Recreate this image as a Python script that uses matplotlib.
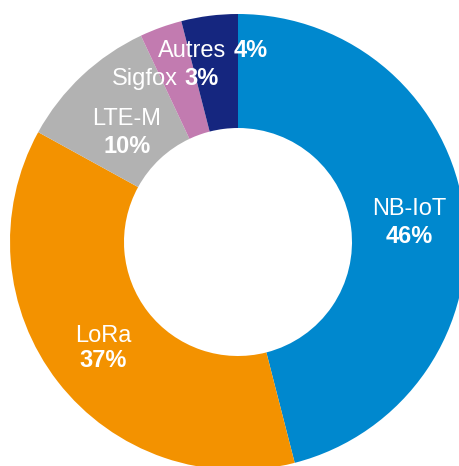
import matplotlib.pyplot as plt

plt.rcParams['font.family'] = ['Liberation Sans', 'DejaVu Sans']

labels = ['NB-IoT', 'LoRa', 'LTE-M', 'Sigfox', 'Autres']
shares = [46, 37, 10, 3, 4]
colors = ['#0088CE', '#F39200', '#B2B2B2', '#C27BB0', '#15267F']

W, H = 459, 466
cx, cy, R = 238, 242, 228

fig = plt.figure(figsize=(W / 100, H / 100), dpi=100)
ax = fig.add_axes([(cx - R) / W, (H - cy - R) / H, 2 * R / W, 2 * R / H])

ax.pie(shares, colors=colors, startangle=90, counterclock=False, radius=1,
       wedgeprops=dict(width=0.5, linewidth=0))
ax.set_xlim(-1, 1)
ax.set_ylim(-1, 1)
ax.set_aspect('auto')
ax.axis('off')

fs = 17
tk = dict(color='white', fontsize=fs)

# two-line labels: name above, bold percentage below
two_line = {
    'NB-IoT': (0.75, 0.118, -0.004),
    'LoRa': (-0.59, -0.439, -0.548),
    'LTE-M': (-0.487, 0.513, 0.39),
}
for name, (x, y1, y2) in two_line.items():
    pct = shares[labels.index(name)]
    ax.text(x, y1, name, ha='center', va='baseline', **tk)
    ax.text(x, y2, f'{pct}%', ha='center', va='baseline', fontweight='bold', **tk)

# one-line labels: name then bold percentage
one_line = {
    'Sigfox': (-0.262, -0.237, 0.689),
    'Autres': (-0.053, -0.018, 0.811),
}
for name, (xr, xl, y) in one_line.items():
    pct = shares[labels.index(name)]
    ax.text(xr, y, name, ha='right', va='baseline', **tk)
    ax.text(xl, y, f'{pct}%', ha='left', va='baseline', fontweight='bold', **tk)

fig.savefig('out.png', dpi=100)
